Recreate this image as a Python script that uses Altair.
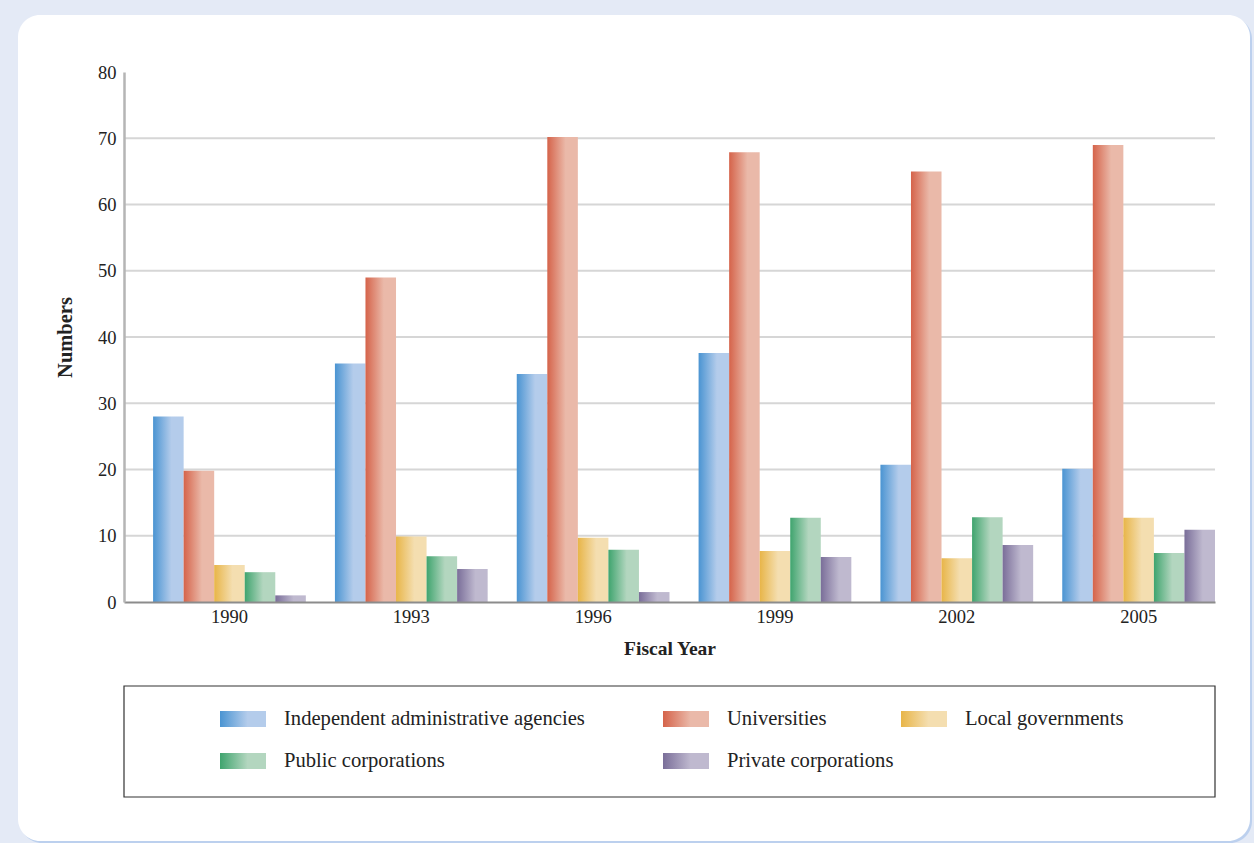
import altair as alt
import pandas as pd

years = ["1990", "1993", "1996", "1999", "2002", "2005"]
categories = [
    "Independent administrative agencies",
    "Universities",
    "Local governments",
    "Public corporations",
    "Private corporations",
]
independent_agencies = [28, 36, 34.4, 37.6, 20.7, 20.1]
universities = [19.8, 49, 70.2, 67.9, 65, 69]
local_governments = [5.6, 9.9, 9.7, 7.7, 6.6, 12.7]
public_corporations = [4.5, 6.9, 7.9, 12.7, 12.8, 7.4]
private_corporations = [1.0, 5.0, 1.5, 6.8, 8.6, 10.9]
y_ticks = [0, 10, 20, 30, 40, 50, 60, 70, 80]
grid_values = [10, 20, 30, 40, 50, 60, 70]

series = [independent_agencies, universities, local_governments,
          public_corporations, private_corporations]
rows = []
for cat, vals in zip(categories, series):
    for yr, v in zip(years, vals):
        rows.append({"year": yr, "cat": cat, "value": v})
df = pd.DataFrame(rows)

# gradient styles (dark -> light, left to right)
grad_pairs = [
    ("#4a94d2", "#b4cceb"),
    ("#d5634a", "#eab9a9"),
    ("#e8b548", "#f4deb0"),
    ("#3fa46e", "#b3d6bf"),
    ("#7a6e99", "#bfb9cf"),
]


def grad_expr(c0, c1):
    return alt.ExprRef(
        expr="{gradient: 'linear', x1: 0, y1: 0, x2: 1, y2: 0, stops: ["
        f"{{offset: 0, color: '{c0}'}}, {{offset: 0.6, color: '{c1}'}}, "
        f"{{offset: 1, color: '{c1}'}}]}}"
    )


color_scale = alt.Scale(domain=categories, range=[grad_expr(a, b) for a, b in grad_pairs])
y_scale = alt.Scale(domain=[0, 80], nice=False, zero=True)

W, H = 1091, 530
FONT = "Liberation Serif"

one = pd.DataFrame({"k": [0]})

shadow = alt.Chart(one).mark_rect(cornerRadius=22, color="#bcd0ee").encode(
    x=alt.value(-104), x2=alt.value(1128), y=alt.value(-55), y2=alt.value(771)
)
card = alt.Chart(one).mark_rect(cornerRadius=22, color="#ffffff").encode(
    x=alt.value(-106), x2=alt.value(1126), y=alt.value(-57), y2=alt.value(769)
)

grid = alt.Chart(pd.DataFrame({"v": grid_values})).mark_rule(
    color="#d6d6d6", strokeWidth=2
).encode(
    y=alt.Y("v:Q", scale=y_scale, axis=None),
    x=alt.value(0),
    x2=alt.value(W),
)

bars = alt.Chart(df).mark_bar().encode(
    x=alt.X(
        "year:N",
        sort=years,
        scale=alt.Scale(paddingInner=0.16, paddingOuter=0.08, align=1),
        axis=alt.Axis(
            title="Fiscal Year",
            labelAngle=0,
            ticks=False,
            grid=False,
            zindex=1,
            domainColor="#8c8c8c",
            domainWidth=2,
            labelFont=FONT,
            labelFontSize=18.5,
            labelColor="#222222",
            labelPadding=5,
            titleFont=FONT,
            titleFontSize=19.5,
            titleFontWeight="bold",
            titleColor="#222222",
            titlePadding=14,
        ),
    ),
    xOffset=alt.XOffset("cat:N", sort=categories,
                        scale=alt.Scale(domain=categories, paddingInner=0, paddingOuter=0)),
    y=alt.Y(
        "value:Q",
        scale=y_scale,
        axis=alt.Axis(
            title="Numbers",
            values=y_ticks,
            ticks=False,
            grid=False,
            zindex=1,
            domainColor="#b5b5b5",
            domainWidth=2.5,
            labelFont=FONT,
            labelFontSize=18.5,
            labelColor="#222222",
            labelPadding=8,
            titleFont=FONT,
            titleFontSize=20.5,
            titleFontWeight="bold",
            titleColor="#222222",
            titlePadding=22,
        ),
    ),
    color=alt.Color("cat:N", scale=color_scale, legend=None),
)

# custom legend (layout positions relative to plot origin)
col_x = [96, 539, 777]
row_y = [647, 689]
leg_rows = []
for i, cat in enumerate(categories):
    c, r = i % 3, i // 3
    leg_rows.append({"cat": cat, "sx": col_x[c], "sx2": col_x[c] + 46,
                     "sy": row_y[r] - 8, "sy2": row_y[r] + 8,
                     "tx": col_x[c] + 64, "ty": row_y[r]})
leg_df = pd.DataFrame(leg_rows)

legend_box = alt.Chart(one).mark_rect(fill="#ffffff", fillOpacity=0, stroke="#333333", strokeWidth=1.2).encode(
    x=alt.value(0), x2=alt.value(W), y=alt.value(614), y2=alt.value(725)
)
legend_sw = alt.Chart(leg_df).mark_rect().encode(
    x=alt.X("sx:Q", scale=None, axis=None),
    x2="sx2:Q",
    y=alt.Y("sy:Q", scale=None, axis=None),
    y2="sy2:Q",
    color=alt.Color("cat:N", scale=color_scale, legend=None),
)
legend_tx = alt.Chart(leg_df).mark_text(
    align="left", baseline="middle", font=FONT, fontSize=20.6, color="#222222"
).encode(
    x=alt.X("tx:Q", scale=None, axis=None),
    y=alt.Y("ty:Q", scale=None, axis=None),
    text="cat:N",
)

chart = (
    alt.layer(shadow, card, grid, bars, legend_box, legend_sw, legend_tx)
    .resolve_scale(x="independent", y="independent")
    .properties(
        width=W,
        height=H,
        autosize=alt.AutoSizeParams(type="none"),
        padding={"left": 124, "top": 72, "right": 39, "bottom": 241},
        background="#e4eaf6",
    )
    .configure_view(stroke=None, clip=False)
)

chart.save("out.html", embed_options={"renderer": "svg", "actions": False})
